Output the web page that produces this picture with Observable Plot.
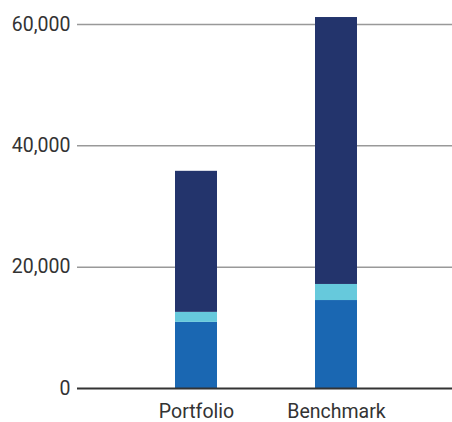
<!DOCTYPE html>
<html>
<head>
<meta charset="utf-8">
<script src="https://cdn.jsdelivr.net/npm/d3@7"></script>
<script src="https://cdn.jsdelivr.net/npm/@observablehq/plot@0.6"></script>
<style>
  html, body { margin: 0; padding: 0; background: #fff; }
  #chart { width: 452px; height: 422px; }
</style>
</head>
<body>
<div id="chart"></div>
<script>
const categories = ["Portfolio", "Benchmark"];
const seriesNames = ["Scope 1", "Scope 2", "Scope 3"];
const scope1 = [10900, 14500];
const scope2 = [1650, 2650];
const scope3 = [23250, 44000];
const yTicks = [0, 20000, 40000, 60000];
const colors = ["#1a67b2", "#66c9dc", "#23346c"];

const seriesValues = [scope1, scope2, scope3];
const data = [];
seriesNames.forEach((s, i) => {
  categories.forEach((c, j) => {
    data.push({category: c, series: s, value: seriesValues[i][j]});
  });
});

const font = "Roboto, 'DejaVu Sans', sans-serif";

const chart = Plot.plot({
  width: 452,
  height: 422,
  marginLeft: 77,
  marginRight: 0,
  marginTop: 24,
  marginBottom: 34,
  style: {fontFamily: font, fontSize: "19.5px", color: "#333", background: "#fff"},
  x: {domain: categories, range: [77, 455], padding: 0.7, label: null},
  y: {domain: [0, 60000], label: null},
  color: {domain: seriesNames, range: colors},
  marks: [
    Plot.ruleY(yTicks.filter(d => d > 0), {stroke: "#999", strokeWidth: 1.5}),
    Plot.barY(data, Plot.stackY({x: "category", y: "value", fill: "series", order: seriesNames})),
    Plot.ruleY([0], {stroke: "#333", strokeWidth: 2}),
    Plot.axisY({ticks: yTicks, tickSize: 0, tickPadding: 7, tickFormat: d3.format(","), fill: "#333", label: null}),
    Plot.axisX({tickSize: 0, tickPadding: 16, fill: "#333", label: null})
  ]
});
document.getElementById("chart").appendChild(chart);
</script>
</body>
</html>
